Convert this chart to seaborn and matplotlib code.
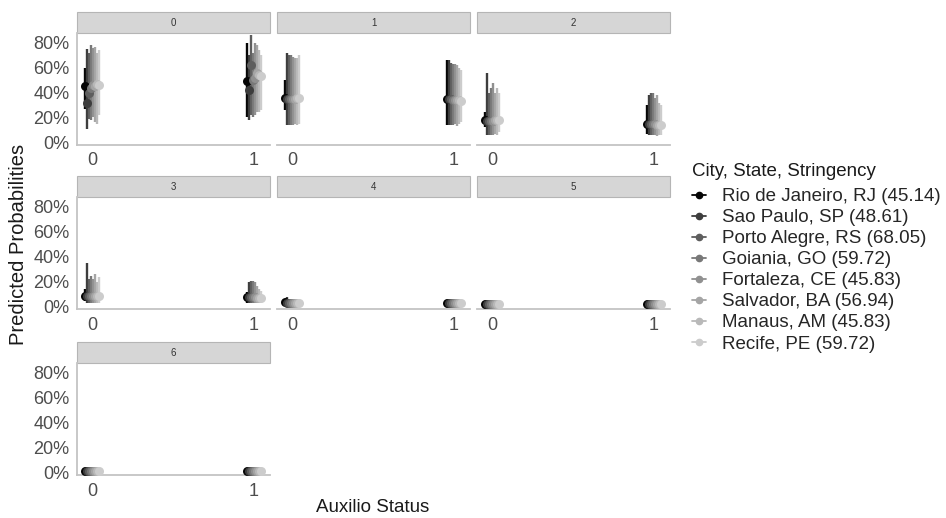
import numpy as np
import pandas as pd
import matplotlib
matplotlib.use("Agg")
import matplotlib.pyplot as plt
from matplotlib.lines import Line2D
from matplotlib.patches import Rectangle
from matplotlib.ticker import PercentFormatter
import seaborn as sns

# ---- data -----------------------------------------------------------------
cities = [
    "Rio de Janeiro, RJ (45.14)",
    "Sao Paulo, SP (48.61)",
    "Porto Alegre, RS (68.05)",
    "Goiania, GO (59.72)",
    "Fortaleza, CE (45.83)",
    "Salvador, BA (56.94)",
    "Manaus, AM (45.83)",
    "Recife, PE (59.72)",
]
outcomes = [0, 1, 2, 3, 4, 5, 6]
aux_status = [0, 1]
x_ticks = [0, 1]
y_ticks = [0.0, 0.2, 0.4, 0.6, 0.8]

# predicted probabilities (%) -- rows: outcome, columns: city (order above)
est_aux0 = [
    [45, 32, 40, 44, 46, 45, 47, 46],
    [36, 35, 35, 35, 35, 35, 36, 36],
    [18, 17, 17, 17, 17, 18, 18, 18],
    [9, 9, 9, 9, 9, 9, 9, 9],
    [3.5, 3.2, 3.0, 3.0, 3.0, 3.0, 3.0, 3.0],
    [2.0, 2.0, 2.0, 2.0, 2.0, 2.0, 2.0, 2.0],
    [1.5, 1.5, 1.5, 1.5, 1.5, 1.5, 1.5, 1.5],
]
lo_aux0 = [
    [27, 11, 19, 18, 20, 16, 15, 22],
    [26, 14, 14, 14, 14, 15, 14, 15],
    [12, 6, 6, 6, 6, 7, 6, 8],
    [5, 3, 3, 3, 3, 3, 3, 3],
    [1.5, 1.0, 1.0, 1.0, 1.0, 1.0, 1.0, 1.0],
    [0.8, 0.8, 0.8, 0.8, 0.8, 0.8, 0.8, 0.8],
    [0.5, 0.5, 0.5, 0.5, 0.5, 0.5, 0.5, 0.5],
]
hi_aux0 = [
    [60, 75, 72, 78, 76, 77, 72, 74],
    [50, 72, 70, 70, 69, 68, 68, 70],
    [24, 56, 40, 44, 48, 40, 44, 40],
    [14, 35, 22, 25, 22, 26, 20, 24],
    [5.5, 8.0, 5.0, 5.0, 5.0, 5.0, 5.0, 4.5],
    [3.5, 3.5, 3.5, 3.5, 3.5, 3.5, 3.5, 3.5],
    [3.0, 3.0, 3.0, 3.0, 3.0, 3.0, 3.0, 3.0],
]

est_aux1 = [
    [49, 42, 62, 50, 52, 56, 54, 53],
    [35, 35, 35, 34, 34, 34, 34, 33],
    [15, 15, 15, 15, 15, 14, 14, 14],
    [8, 8, 8, 8, 8, 7, 7, 7],
    [3.0, 3.0, 3.0, 3.0, 3.0, 3.0, 3.0, 3.0],
    [2.0, 2.0, 2.0, 2.0, 2.0, 2.0, 2.0, 2.0],
    [1.5, 1.5, 1.5, 1.5, 1.5, 1.5, 1.5, 1.5],
]
lo_aux1 = [
    [20, 18, 22, 20, 22, 24, 24, 26],
    [14, 14, 14, 14, 15, 13, 15, 16],
    [7, 6, 6, 6, 6, 5, 6, 6],
    [3, 3, 3, 3, 3, 3, 3, 3],
    [1.0, 1.0, 1.0, 1.0, 1.0, 1.0, 1.0, 1.0],
    [0.8, 0.8, 0.8, 0.8, 0.8, 0.8, 0.8, 0.8],
    [0.5, 0.5, 0.5, 0.5, 0.5, 0.5, 0.5, 0.5],
]
hi_aux1 = [
    [80, 70, 86, 72, 80, 78, 74, 70],
    [66, 66, 64, 63, 63, 62, 60, 58],
    [30, 38, 40, 40, 36, 38, 32, 30],
    [12, 20, 21, 21, 20, 17, 14, 13],
    [5.0, 5.0, 5.0, 5.0, 5.0, 5.0, 5.0, 5.0],
    [3.5, 3.5, 3.5, 3.5, 3.5, 3.5, 3.5, 3.5],
    [3.0, 3.0, 3.0, 3.0, 3.0, 3.0, 3.0, 3.0],
]

# ---- long table ---------------------------------------------------------
rows = []
tables = {0: (est_aux0, lo_aux0, hi_aux0), 1: (est_aux1, lo_aux1, hi_aux1)}
for aux in aux_status:
    est, lo, hi = tables[aux]
    for o in outcomes:
        for k, city in enumerate(cities):
            rows.append(dict(outcome=o, auxilio=aux, city=city,
                             est=est[o][k] / 100, lo=lo[o][k] / 100,
                             hi=hi[o][k] / 100))
df = pd.DataFrame(rows)

# grey scale palette, dark to light
levels = np.linspace(0.02 ** 1.6, 0.80 ** 1.6, len(cities)) ** (1 / 1.6)
greys = [(v, v, v) for v in levels]

DODGE = 0.1  # total dodge width on the x scale


def pointrange(data, color=None, label=None, **kws):
    ax = plt.gca()
    k = cities.index(data["city"].iloc[0])
    x = data["auxilio"] + (k - (len(cities) - 1) / 2) * DODGE / len(cities)
    ax.vlines(x, data["lo"], data["hi"], color=color, lw=1.7,
              zorder=2 + k * 0.01)
    ax.scatter(x, data["est"], s=42, color=color, linewidths=0,
               zorder=3 + k * 0.01)


sns.set_theme(style="white")
plt.rcParams["font.family"] = ["Liberation Sans", "DejaVu Sans"]

g = sns.FacetGrid(df, col="outcome", col_wrap=3, hue="city",
                  hue_order=cities, palette=greys, sharex=True, sharey=True,
                  despine=False)
g.map_dataframe(pointrange)

fig = g.figure
fig.set_size_inches(9.46, 5.18)
W, H = 946.0, 518.0

col_left = [77, 277, 477]
panel_w = 193
row_span = [(33, 144.5), (197, 309), (363, 475)]
strip_h = 21

axis_grey = "#c4c4c4"
tick_grey = "#4d4d4d"

for i, ax in enumerate(g.axes.flat):
    r, c = divmod(i, 3)
    top, bot = row_span[r]
    ax.set_position([col_left[c] / W, 1 - bot / H, panel_w / W, (bot - top) / H])
    ax.set_title("")
    ax.set_xlabel("")
    ax.set_ylabel("")
    ax.set_xlim(-0.095, 1.1)
    ax.set_ylim(-0.018, 0.88)
    ax.set_xticks(x_ticks)
    ax.set_xticklabels([str(t) for t in x_ticks])
    ax.set_yticks(y_ticks)
    ax.yaxis.set_major_formatter(PercentFormatter(1.0, decimals=0))
    ax.tick_params(axis="both", length=0, labelsize=13, labelcolor=tick_grey,
                   pad=5.5)
    ax.tick_params(axis="x", labelbottom=True)
    ax.grid(False)
    for s in ["top", "right"]:
        ax.spines[s].set_visible(False)
    ax.spines["bottom"].set_color(axis_grey)
    ax.spines["bottom"].set_linewidth(1.3)
    if c == 0:
        ax.spines["left"].set_color(axis_grey)
        ax.spines["left"].set_linewidth(1.3)
    else:
        ax.spines["left"].set_visible(False)
    # facet strip
    h = strip_h / (bot - top)
    ax.add_patch(Rectangle((0, 1), 1, h, transform=ax.transAxes,
                           clip_on=False, facecolor="#d6d6d6",
                           edgecolor="#b5b5b5", lw=0.8))
    ax.text(0.5, 1 + h / 2, str(outcomes[i]), transform=ax.transAxes,
            ha="center", va="center", fontsize=7, color="#333333")

fig.text(18 / W, 1 - 244 / H, "Predicted Probabilities", rotation=90,
         ha="center", va="center", fontsize=14.5, color="#1a1a1a")
fig.text(373 / W, 1 - 508 / H, "Auxilio Status", ha="center", va="center",
         fontsize=13.5, color="#1a1a1a")

# legend: title placed as text, keys + labels as a legend below it
fig.text(692 / W, 1 - 171 / H, "City, State, Stringency", ha="left",
         va="center", fontsize=13.5, color="#1a1a1a")
handles = [Line2D([0], [0], color=col, marker="o", ms=4.5, lw=1.3)
           for col in greys]
fig.legend(handles, cities,
           loc="upper left", bbox_to_anchor=(692 / W, 1 - 188 / H),
           frameon=False, fontsize=13.5,
           handlelength=0.75, handletextpad=0.85, labelspacing=0.21,
           borderpad=0, borderaxespad=0)

fig.savefig("out.png", dpi=100)
